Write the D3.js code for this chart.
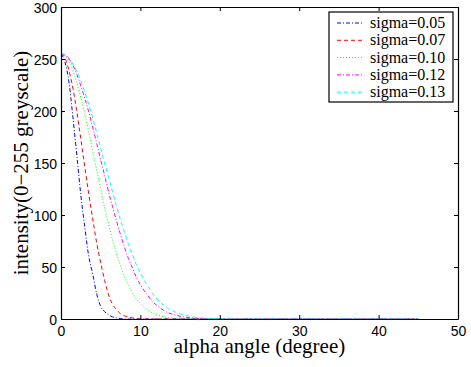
<!DOCTYPE html>
<html>
<head>
<meta charset="utf-8">
<script src="https://cdn.jsdelivr.net/npm/d3@7"></script>
<style>
  html, body { margin: 0; padding: 0; background: #fff; }
  svg { display: block; }
</style>
</head>
<body>
<div id="chart_container"></div>
<script>
// sample angles (degree)
const angles = [0, 0.5, 1, 1.5, 2, 2.5, 3, 3.5, 4, 4.5, 5, 5.5, 6, 6.5, 7, 7.5, 8, 8.5, 9, 9.5,
  10, 10.5, 11, 11.5, 12, 12.5, 13, 13.5, 14, 15, 16, 17, 18, 20, 25, 30, 35, 40, 45];

// intensity values, one array per sigma
const sigma005 = [255, 247, 228, 194, 157, 119, 88, 60, 43, 24, 12, 7, 4, 2, 1, 0.5, 0, 0, 0, 0,
  0, 0, 0, 0, 0, 0, 0, 0, 0, 0, 0, 0, 0, 0, 0, 0, 0, 0, 0];
const sigma007 = [255, 251, 239, 222, 199, 173, 146, 120, 96, 73, 54, 37, 23, 14, 9, 5, 3, 2, 1, 0.5,
  0, 0, 0, 0, 0, 0, 0, 0, 0, 0, 0, 0, 0, 0, 0, 0, 0, 0, 0];
const sigma010 = [255, 253, 248, 239, 227, 213, 197, 180, 161, 143, 125, 107, 91, 76, 63, 51, 41, 32, 25, 19,
  15, 11, 8, 6, 4, 3, 2, 1.5, 1, 0.4, 0, 0, 0, 0, 0, 0, 0, 0, 0];
const sigma012 = [255, 254, 250, 244, 235, 224, 212, 199, 184, 169, 153, 138, 122, 108, 94, 81, 69, 58, 49, 40,
  33, 27, 22, 17, 13.5, 10.5, 8, 6, 4.7, 2.6, 1.4, 0.7, 0.3, 0, 0, 0, 0, 0, 0];
const sigma013 = [255, 254, 251, 245, 238, 229, 218, 206, 193, 179, 164, 150, 136, 122, 108, 95, 83, 72, 62, 52,
  44, 37, 31, 25, 20, 16, 13, 10, 8, 5, 3, 1.6, 0.9, 0.2, 0, 0, 0, 0, 0];

const seriesNames = ['sigma=0.05', 'sigma=0.07', 'sigma=0.10', 'sigma=0.12', 'sigma=0.13'];
const seriesValues = [sigma005, sigma007, sigma010, sigma012, sigma013];
const xTicks = [0, 10, 20, 30, 40, 50];
const yTicks = [0, 50, 100, 150, 200, 250, 300];
const xTitle = 'alpha angle (degree)';
const yTitle = 'intensity(0\u2212255 greyscale)';

const WIDTH = 471;
const HEIGHT = 367;
const margin = { top: 7, right: 13, bottom: 48, left: 61 };
const innerWidth = WIDTH - margin.left - margin.right;
const innerHeight = HEIGHT - margin.top - margin.bottom;

// matlab style: colour + line style per series
const colors = ['#0000ff', '#ff0000', '#00ff00', '#ff00ff', '#00ffff'];
const dashes = ['4,2,1,2', '4,3', '1,2', '4,2,1,2', '4,3'];

const svg = d3
  .select('#chart_container')
  .append('svg')
  .attr('width', WIDTH)
  .attr('height', HEIGHT);

const scaleX = d3.scaleLinear().domain([0, 50]).range([0, innerWidth]);
const scaleY = d3.scaleLinear().domain([0, 300]).range([innerHeight, 0]);

const plot = svg
  .append('g')
  .attr('transform', `translate(${margin.left},${margin.top})`);

plot
  .append('clipPath')
  .attr('id', 'clip')
  .append('rect')
  .attr('width', innerWidth)
  .attr('height', innerHeight);

// draw curves
const line = d3
  .line()
  .x((d) => scaleX(d[0]))
  .y((d) => scaleY(d[1]))
  .curve(d3.curveMonotoneX);

plot
  .append('g')
  .attr('clip-path', 'url(#clip)')
  .selectAll('path')
  .data(seriesValues)
  .join('path')
  .attr('d', (vals) => line(angles.map((a, i) => [a, vals[i]])))
  .attr('fill', 'none')
  .attr('stroke', (d, i) => colors[i])
  .attr('stroke-width', 1)
  .attr('stroke-dasharray', (d, i) => dashes[i]);

// draw axes (ticks inside, box on)
const tickFont = (g) =>
  g.selectAll('text')
    .attr('font-family', '"Liberation Sans", Arial, sans-serif')
    .attr('font-size', 14)
    .attr('fill', '#000')
    .attr('dy', null);

const styleAxis = (g) => {
  g.select('.domain').attr('stroke', '#000').attr('stroke-width', 1.2);
  g.selectAll('.tick line').attr('stroke', '#000').attr('stroke-width', 1);
};

const noLabels = (g) => g.selectAll('.tick text').remove();

plot
  .append('g')
  .attr('transform', `translate(0,${innerHeight})`)
  .call(d3.axisBottom(scaleX).tickValues(xTicks).tickSize(-4).tickSizeOuter(0))
  .call(styleAxis)
  .call(tickFont)
  .call((g) => g.selectAll('.tick text').attr('y', 17))
  .attr('font-family', null)
  .attr('font-size', null);

plot
  .append('g')
  .call(d3.axisLeft(scaleY).tickValues(yTicks).tickSize(-4).tickSizeOuter(0).tickPadding(4))
  .call(styleAxis)
  .call(tickFont)
  .call((g) => g.selectAll('.tick text').attr('y', 5))
  .attr('font-family', null)
  .attr('font-size', null);

plot
  .append('g')
  .call(d3.axisTop(scaleX).tickValues(xTicks).tickSize(-4).tickSizeOuter(0))
  .call(styleAxis)
  .call(noLabels);

plot
  .append('g')
  .attr('transform', `translate(${innerWidth},0)`)
  .call(d3.axisRight(scaleY).tickValues(yTicks).tickSize(-4).tickSizeOuter(0))
  .call(styleAxis)
  .call(noLabels);

// axis titles
svg
  .append('text')
  .attr('x', margin.left + innerWidth / 2)
  .attr('y', 353)
  .attr('text-anchor', 'middle')
  .attr('font-family', '"Liberation Serif", "Times New Roman", serif')
  .attr('font-size', 21)
  .text(xTitle);

svg
  .append('text')
  .attr('transform', `translate(28,${margin.top + innerHeight / 2}) rotate(-90)`)
  .attr('text-anchor', 'middle')
  .attr('font-family', '"Liberation Serif", "Times New Roman", serif')
  .attr('font-size', 21)
  .text(yTitle);

// legend
const legend = svg.append('g').attr('transform', 'translate(329,12)');
legend
  .append('rect')
  .attr('width', 124)
  .attr('height', 90)
  .attr('fill', '#fff')
  .attr('stroke', '#000')
  .attr('stroke-width', 1.2);

const items = legend
  .selectAll('g.item')
  .data(seriesNames)
  .join('g')
  .attr('class', 'item')
  .attr('transform', (d, i) => `translate(0,${11 + i * 17.3})`);

items
  .append('line')
  .attr('x1', 8)
  .attr('x2', 33)
  .attr('stroke', (d, i) => colors[i])
  .attr('stroke-width', 1)
  .attr('stroke-dasharray', (d, i) => dashes[i]);

items
  .append('text')
  .attr('x', 41)
  .attr('y', 5)
  .attr('font-family', '"Liberation Serif", "Times New Roman", serif')
  .attr('font-size', 16)
  .text((d) => d);
</script>
</body>
</html>
